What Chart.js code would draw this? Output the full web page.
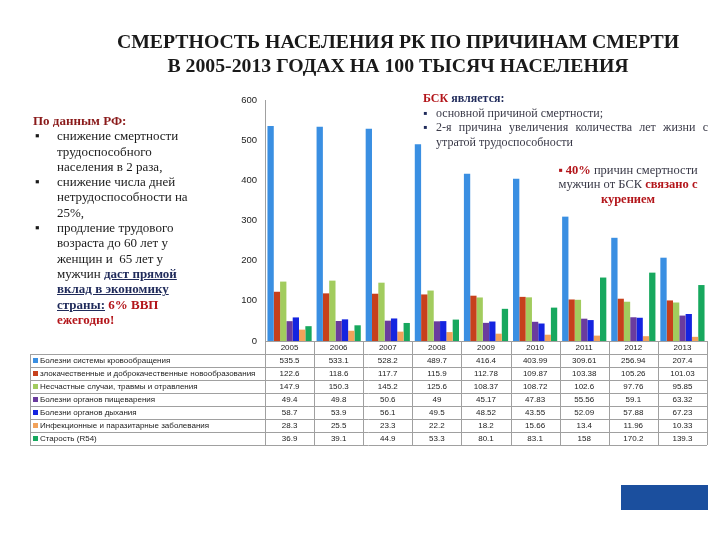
<!DOCTYPE html>
<html>
<head>
<meta charset="utf-8">
<script src="https://cdn.jsdelivr.net/npm/chart.js@4.4.1/dist/chart.umd.min.js"></script>
<style>
  body { margin: 0; background: #fff; }
  #wrap { position: relative; width: 720px; height: 540px; overflow: hidden; }
  #myChart { position: absolute; left: 0; top: 0; }
  .serif { font-family: "Liberation Serif", "DejaVu Serif", serif; position: absolute; }
  #title { left: 38px; width: 720px; top: 29px; text-align: center; font-size: 19.8px; font-weight: bold; line-height: 24px; color: #1a1a1a; }
  #leftNote { left: 33px; top: 113px; width: 157px; font-size: 13px; line-height: 15.3px; color: #1a1a1a; }
  #leftNote .bul { position: absolute; left: 2px; }
  #leftNote .item { padding-left: 24px; position: relative; }
  .red { color: #b3151a; font-weight: bold; }
  .dred { color: #8a1a1a; font-weight: bold; }
  .navy { color: #1f2a5a; font-weight: bold; }
  .ul { text-decoration: underline; }
  #bsk { left: 423px; top: 91px; width: 285px; font-size: 12px; line-height: 14.5px; color: #3a3a48; }
  #bsk .item { position: relative; padding-left: 13px; text-align: justify; }
  #bsk .bul { position: absolute; left: 0; color: #1f2a5a; }
  #smoke { left: 546px; top: 163px; width: 164px; font-size: 12.5px; line-height: 14.3px; color: #3a3a48; text-align: center; }
  #blueBox { position: absolute; left: 621px; top: 485px; width: 87px; height: 25px; background: #1b4f9e; }
</style>
</head>
<body>
<div id="wrap">
  <canvas id="myChart" width="720" height="540"></canvas>
  <div id="title" class="serif">СМЕРТНОСТЬ НАСЕЛЕНИЯ РК ПО ПРИЧИНАМ СМЕРТИ<br>В 2005-2013 ГОДАХ НА 100 ТЫСЯЧ НАСЕЛЕНИЯ</div>
  <div id="leftNote" class="serif">
    <div class="dred">По данным РФ:</div>
    <div class="item"><span class="bul">▪</span>снижение смертности трудоспособного населения в 2 раза,</div>
    <div class="item"><span class="bul">▪</span>снижение числа дней нетрудоспособности на 25%,</div>
    <div class="item"><span class="bul">▪</span>продление трудового возраста до 60 лет у женщин и&nbsp; 65 лет у мужчин <span class="navy ul">даст прямой вклад в экономику страны:</span> <span class="red">6% ВВП ежегодно!</span></div>
  </div>
  <div id="bsk" class="serif">
    <div><span class="red">БСК</span> <span class="navy">является:</span></div>
    <div class="item"><span class="bul">▪</span>основной причиной смертности;</div>
    <div class="item"><span class="bul">▪</span>2-я причина увеличения количества лет жизни с утратой трудоспособности</div>
  </div>
  <div id="smoke" class="serif"><span style="color:#b3151a">▪</span> <span class="red">40%</span> причин смертности мужчин от БСК <span class="red">связано с курением</span></div>
  <div id="blueBox"></div>
</div>
<script>
// years and death causes per 100 000 population
const years = ['2005', '2006', '2007', '2008', '2009', '2010', '2011', '2012', '2013'];
const causeNames = [
    'Болезни системы кровообращения',
    'злокачественные и доброкачественные новообразования',
    'Несчастные случаи, травмы и отравления',
    'Болезни органов пищеварения',
    'Болезни органов дыхания',
    'Инфекционные и паразитарные заболевания',
    'Старость (R54)'
];
const circulatory = [535.5, 533.1, 528.2, 489.7, 416.4, 403.99, 309.61, 256.94, 207.4];
const neoplasms = [122.6, 118.6, 117.7, 115.9, 112.78, 109.87, 103.38, 105.26, 101.03];
const injuries = [147.9, 150.3, 145.2, 125.6, 108.37, 108.72, 102.6, 97.76, 95.85];
const digestive = [49.4, 49.8, 50.6, 49, 45.17, 47.83, 55.56, 59.1, 63.32];
const respiratory = [58.7, 53.9, 56.1, 49.5, 48.52, 43.55, 52.09, 57.88, 67.23];
const infections = [28.3, 25.5, 23.3, 22.2, 18.2, 15.66, 13.4, 11.96, 10.33];
const oldAge = [36.9, 39.1, 44.9, 53.3, 80.1, 83.1, 158, 170.2, 139.3];
const yTicks = [0, 100, 200, 300, 400, 500, 600];

const seriesData = [circulatory, neoplasms, injuries, digestive, respiratory, infections, oldAge];
const colors = ['#3a8fe2', '#c7401c', '#a2cc5e', '#6a3c9e', '#1424e0', '#f2a25a', '#17a85e'];

// draws the data table under the plot, aligned to the x scale
const tablePlugin = {
    id: 'dataTable',
    afterDraw(chart) {
        const c = chart.ctx;
        const area = chart.chartArea;
        const colW = (area.right - area.left) / years.length;
        const top = area.bottom;
        const rowH = 13;
        const headBottom = top + 13;
        const bottom = headBottom + rowH * causeNames.length;
        const tableLeft = 30;
        c.save();
        c.strokeStyle = '#a0a0a0';
        c.lineWidth = 1;
        c.beginPath();
        c.moveTo(area.left, top + 0.5);
        c.lineTo(area.right, top + 0.5);
        for (let i = 0; i <= years.length; i++) {
            const x = Math.round(area.left + i * colW) + 0.5;
            c.moveTo(x, top);
            c.lineTo(x, bottom);
        }
        c.moveTo(tableLeft + 0.5, headBottom);
        c.lineTo(tableLeft + 0.5, bottom);
        for (let r = 0; r <= causeNames.length; r++) {
            const y = headBottom + r * rowH + 0.5;
            c.moveTo(tableLeft, y);
            c.lineTo(area.right, y);
        }
        c.stroke();

        c.fillStyle = '#222';
        c.font = '8px "Liberation Sans", sans-serif';
        c.textAlign = 'center';
        c.textBaseline = 'middle';
        years.forEach((yr, i) => {
            c.fillText(yr, area.left + (i + 0.5) * colW, top + 7);
        });
        causeNames.forEach((name, r) => {
            const yMid = headBottom + r * rowH + rowH / 2 + 0.5;
            c.fillStyle = colors[r];
            c.fillRect(tableLeft + 3, yMid - 3, 5, 5);
            c.fillStyle = '#222';
            c.textAlign = 'left';
            const maxW = area.left - tableLeft - 14;
            const w = c.measureText(name).width;
            if (w > maxW) {
                c.save();
                c.translate(tableLeft + 10, yMid);
                c.scale(maxW / w, 1);
                c.fillText(name, 0, 0);
                c.restore();
            } else {
                c.fillText(name, tableLeft + 10, yMid);
            }
            c.textAlign = 'center';
            seriesData[r].forEach((v, i) => {
                c.fillText(String(v), area.left + (i + 0.5) * colW, yMid);
            });
        });
        c.restore();
    }
};

const ctx = document.getElementById('myChart');
new Chart(ctx, {
    type: 'bar',
    data: {
        labels: years,
        datasets: seriesData.map((d, i) => ({
            label: causeNames[i],
            data: d,
            backgroundColor: colors[i],
            borderWidth: 0,
            categoryPercentage: 0.9,
            barPercentage: 1.0
        }))
    },
    options: {
        responsive: false,
        animation: false,
        layout: { padding: { left: 235, right: 13, top: 100, bottom: 199 } },
        plugins: { legend: { display: false }, tooltip: { enabled: false } },
        scales: {
            x: { display: false },
            y: {
                min: 0,
                max: 600,
                afterFit: scale => { scale.width = 30; },
                afterBuildTicks: scale => { scale.ticks = yTicks.map(v => ({ value: v })); },
                grid: { display: false },
                border: { display: true, color: '#a0a0a0' },
                ticks: {
                    padding: 0,
                    color: '#222',
                    font: { family: '"Liberation Sans", sans-serif', size: 9.5 }
                }
            }
        }
    },
    plugins: [tablePlugin]
});
</script>
</body>
</html>
